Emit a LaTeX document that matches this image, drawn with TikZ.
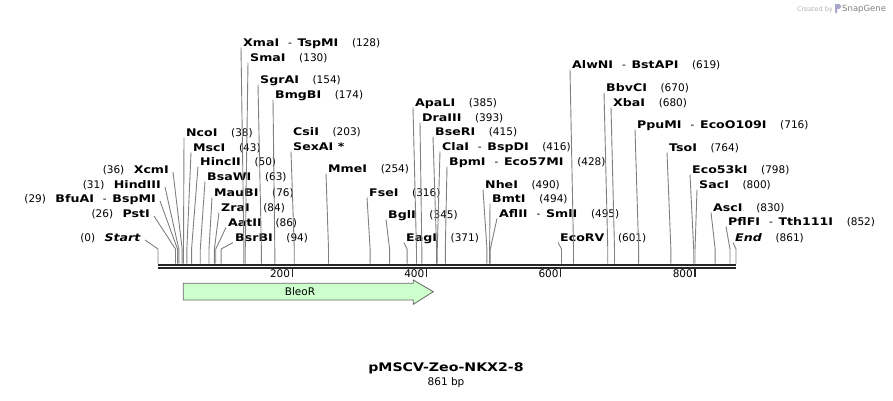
\documentclass[tikz,border=0pt]{standalone}
\usepackage{fontspec}
\setmainfont{DejaVu Sans}[BoldFeatures={FakeStretch=1.2}, BoldItalicFeatures={FakeStretch=1.2}]
\newcommand{\numgap}{\hspace{1.3em}}
\newcommand{\enzsep}{\hspace{0.85em}-\hspace{0.55em}}
\begin{document}
\begin{tikzpicture}[x=1pt,y=-1pt,
    lab/.style={inner sep=0pt, font=\fontsize{10.5}{12}\selectfont},
    labR/.style={lab, anchor=base west},
    labL/.style={lab, anchor=base east},
    cut/.style={draw=black!50, line width=0.9pt},
    seqline/.style={draw=black!85, line width=2.4pt},
    tick/.style={draw=black!85, line width=1.4pt},
    feat/.style={draw=black!60, fill=green!20, line width=0.8pt}]
    \useasboundingbox (0,0) rectangle (893,400);
    % credit line
    \node[anchor=base east, text=black!30, inner sep=0pt, font=\fontsize{6.5}{7}\selectfont] (credit) at (833,11) {Created by};
    \fill[blue!25!gray!55] (835,4) -- (839,4) to[out=0, in=90] (841,7) to[out=-90, in=0] (838,9) -- (837,9) -- (837,13) -- (835,13) -- cycle;
    \node[anchor=base west, text=black!50, inner sep=0pt, font=\fontsize{8.5}{9}\selectfont] (snap) at (842,11) {SnapGene};
    % sequence and ruler
    \coordinate (seqL) at (158,264.8);
    \coordinate (seqR) at (736,264.8);
    \draw[seqline] (seqL) -- (seqR);
    \draw[seqline, line width=2.1pt] ([yshift=-3.6pt]seqL) -- ([yshift=-3.6pt]seqR);
    \foreach \t in {200,400,600,800} {
        \draw[tick] (158+0.6713*\t, 268.5) -- (158+0.6713*\t, 276.5);
        \node[lab, anchor=east] (ruler\t) at (156+0.6713*\t, 274) {\t};
    }
    % feature
    \draw[feat] (183.3,283.3) -- (413.3,283.3) -- (413.3,280) -- (433.3,291.7)
        -- (413.3,304.3) -- (413.3,300) -- (183.3,300) -- cycle;
    \node[lab] (bleor) at (300,291.7) {BleoR};
    % left labels
    \node[labL] (start) at (141,241) {(0)\hspace{0.9em}\textbf{\textit{Start}}};
    \node[labL] (psti) at (150,217) {(26)\hspace{0.9em}\textbf{PstI}};
    \node[labL] (bfuai) at (156,202) {(29)\hspace{0.9em}\textbf{BfuAI}\enzsep\textbf{BspMI}};
    \node[labL] (hindiii) at (161,188) {(31)\hspace{0.9em}\textbf{HindIII}};
    \node[labL] (xcmi) at (169,173) {(36)\hspace{0.9em}\textbf{XcmI}};
    % right labels
    \node[labR] (xmai) at (243,46) {\textbf{XmaI}\enzsep\textbf{TspMI}\numgap(128)};
    \node[labR] (smai) at (250,61) {\textbf{SmaI}\numgap(130)};
    \node[labR] (sgrai) at (260,83) {\textbf{SgrAI}\numgap(154)};
    \node[labR] (bmgbi) at (275,98) {\textbf{BmgBI}\numgap(174)};
    \node[labR] (ncoi) at (186,136) {\textbf{NcoI}\numgap(38)};
    \node[labR] (msci) at (193,151) {\textbf{MscI}\numgap(43)};
    \node[labR] (hincii) at (200,165) {\textbf{HincII}\numgap(50)};
    \node[labR] (bsawi) at (207,180) {\textbf{BsaWI}\numgap(63)};
    \node[labR] (maubi) at (214,196) {\textbf{MauBI}\numgap(76)};
    \node[labR] (zrai) at (221,211) {\textbf{ZraI}\numgap(84)};
    \node[labR] (aatii) at (228,226) {\textbf{AatII}\numgap(86)};
    \node[labR] (bsrbi) at (235,241) {\textbf{BsrBI}\numgap(94)};
    \node[labR] (csii) at (293,135) {\textbf{CsiI}\numgap(203)};
    \node[labR] (sexai) at (293,150) {\textbf{SexAI *}};
    \node[labR] (mmei) at (328,172) {\textbf{MmeI}\numgap(254)};
    \node[labR] (fsei) at (369,196) {\textbf{FseI}\numgap(316)};
    \node[labR] (bgli) at (388,218) {\textbf{BglI}\numgap(345)};
    \node[labR] (eagi) at (406,241) {\textbf{EagI}\numgap(371)};
    \node[labR] (apali) at (415,106) {\textbf{ApaLI}\numgap(385)};
    \node[labR] (draiii) at (422,121) {\textbf{DraIII}\numgap(393)};
    \node[labR] (bseri) at (435,135) {\textbf{BseRI}\numgap(415)};
    \node[labR] (clai) at (442,150) {\textbf{ClaI}\enzsep\textbf{BspDI}\numgap(416)};
    \node[labR] (bpmi) at (449,165) {\textbf{BpmI}\enzsep\textbf{Eco57MI}\numgap(428)};
    \node[labR] (nhei) at (485,188) {\textbf{NheI}\numgap(490)};
    \node[labR] (bmti) at (492,202) {\textbf{BmtI}\numgap(494)};
    \node[labR] (aflii) at (499,217) {\textbf{AflII}\enzsep\textbf{SmlI}\numgap(495)};
    \node[labR] (ecorv) at (560,241) {\textbf{EcoRV}\numgap(601)};
    \node[labR] (alwni) at (572,68) {\textbf{AlwNI}\enzsep\textbf{BstAPI}\numgap(619)};
    \node[labR] (bbvci) at (606,91) {\textbf{BbvCI}\numgap(670)};
    \node[labR] (xbai) at (613,106) {\textbf{XbaI}\numgap(680)};
    \node[labR] (ppumi) at (637,128) {\textbf{PpuMI}\enzsep\textbf{EcoO109I}\numgap(716)};
    \node[labR] (tsoi) at (669,151) {\textbf{TsoI}\numgap(764)};
    \node[labR] (eco53ki) at (692,173) {\textbf{Eco53kI}\numgap(798)};
    \node[labR] (saci) at (699,188) {\textbf{SacI}\numgap(800)};
    \node[labR] (asci) at (713,211) {\textbf{AscI}\numgap(830)};
    \node[labR] (pflfi) at (728,225) {\textbf{PflFI}\enzsep\textbf{Tth111I}\numgap(852)};
    \node[labR] (end) at (735,241) {\textbf{\textit{End}}\numgap(861)};
    % connectors to the cut sites
    \foreach \n/\p in {start/0, psti/26, bfuai/29, hindiii/31, xcmi/36}
        \draw[cut] ([xshift=4pt,yshift=1pt]\n.base east) -- (158+0.6713*\p, 249) -- (158+0.6713*\p, 263.5);
    \foreach \n/\p in {xmai/128, smai/130, sgrai/154, bmgbi/174, ncoi/38, msci/43,
        hincii/50, bsawi/63, maubi/76, zrai/84, aatii/86, bsrbi/94, sexai/203,
        mmei/254, fsei/316, bgli/345, eagi/371, apali/385, draiii/393, bseri/415,
        clai/416, bpmi/428, nhei/490, bmti/494, aflii/495, ecorv/601, alwni/619,
        bbvci/670, xbai/680, ppumi/716, tsoi/764, eco53ki/798, saci/800, asci/830,
        pflfi/852, end/861}
        \draw[cut] ([xshift=-2pt,yshift=-1.5pt]\n.base west) -- (158+0.6713*\p, 249) -- (158+0.6713*\p, 263.5);
    % title
    \node[inner sep=0pt, font=\bfseries\fontsize{11.8}{14}\selectfont] (title) at (446,368) {pMSCV-Zeo-NKX2-8};
    \node[lab] (size) at (446,383) {861 bp};
\end{tikzpicture}
\end{document}
